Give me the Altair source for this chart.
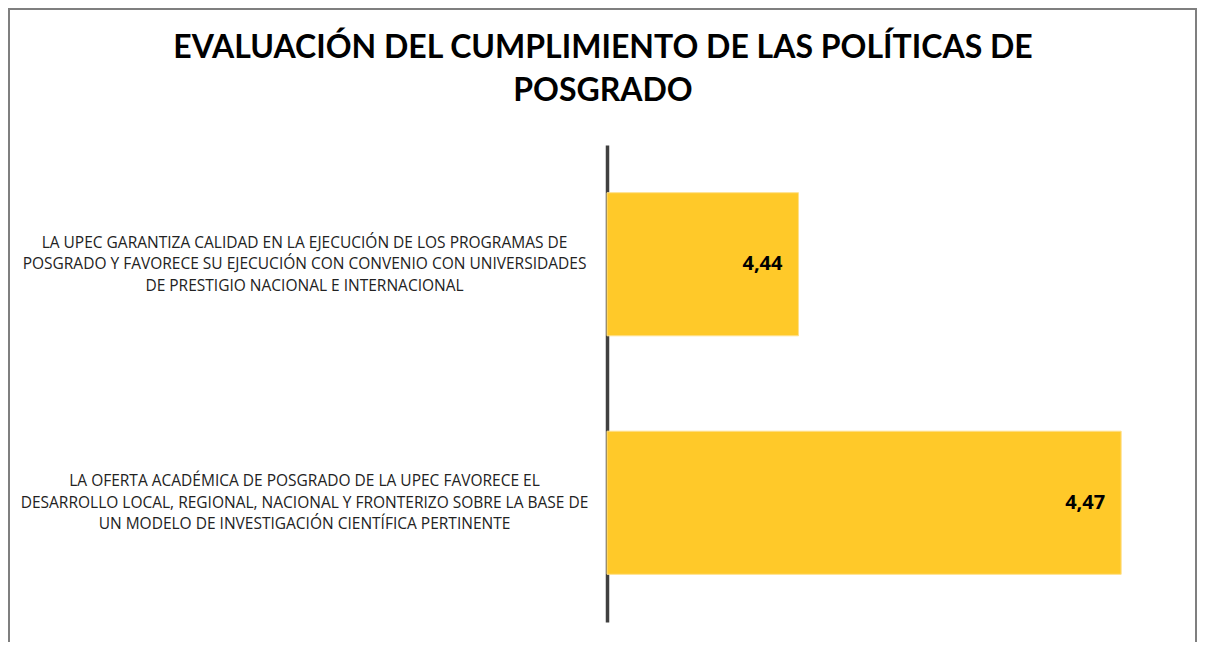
import altair as alt
import pandas as pd

categories = [
    "LA UPEC GARANTIZA CALIDAD EN LA EJECUCIÓN DE LOS PROGRAMAS DE|POSGRADO Y FAVORECE SU EJECUCIÓN CON CONVENIO CON UNIVERSIDADES|DE PRESTIGIO NACIONAL E INTERNACIONAL",
    "LA OFERTA ACADÉMICA DE POSGRADO DE LA UPEC  FAVORECE EL|DESARROLLO LOCAL, REGIONAL, NACIONAL Y FRONTERIZO SOBRE LA BASE DE|UN MODELO DE INVESTIGACIÓN CIENTÍFICA PERTINENTE",
]
values = [4.44, 4.47]
value_labels = ["4,44", "4,47"]

df = pd.DataFrame({"cat": categories, "val": values, "lab": value_labels})

PLOT_W = 583
PLOT_H = 477
PAD_L = 599
PAD_T = 137

x_scale = alt.Scale(domain=[4.4222, 4.4764], zero=False, nice=False, clamp=True)
y_enc = alt.Y(
    "cat:N",
    sort=categories,
    scale=alt.Scale(paddingInner=0.4, paddingOuter=0.2),
    axis=alt.Axis(
        title=None,
        ticks=False,
        domainColor="#404040",
        domainWidth=3.5,
        labelExpr="split(datum.label, '|')",
        labelAlign="center",
        labelBaseline="middle",
        labelPadding=303,
        labelOffset=-21.5,
        labelFont="Open Sans",
        labelFontSize=15.5,
        labelColor="#222222",
        labelLineHeight=21.5,
        labelLimit=0,
    ),
)

bars = alt.Chart(df).mark_bar(color="#FFC929", stroke="#FFE08A", strokeWidth=1).encode(
    x=alt.X("val:Q", scale=x_scale, axis=None),
    x2=alt.value(0),
    y=y_enc,
)

text = alt.Chart(df).mark_text(
    align="right", baseline="middle", dx=-16, font="Open Sans", fontSize=20,
    fontWeight="bold", color="#000000",
).encode(
    x=alt.X("val:Q", scale=x_scale, axis=None),
    y=alt.Y("cat:N", sort=categories),
    text="lab:N",
)

border = alt.Chart(df).mark_rect(fill=None, stroke="#7f7f7f", strokeWidth=2).encode(
    x=alt.value(-PAD_L + 1),
    x2=alt.value(1189 - PAD_L - 1),
    y=alt.value(-PAD_T + 1),
    y2=alt.value(650 - PAD_T),
)

chart = alt.layer(border, bars, text).properties(
    width=PLOT_W,
    height=PLOT_H,
    autosize=alt.AutoSizeParams(type="none"),
    padding={"left": PAD_L, "top": PAD_T, "right": 1189 - PAD_L - PLOT_W, "bottom": 634 - PAD_T - PLOT_H},
    title=alt.Title(
        text=["EVALUACIÓN DEL CUMPLIMIENTO DE LAS POLÍTICAS DE", "POSGRADO"],
        font="Lato",
        fontSize=32,
        fontWeight="bold",
        color="#000000",
        lineHeight=43,
        anchor="middle",
        dx=-(PAD_L + PLOT_W / 2 - 595),
        offset=-100,
    ),
).configure(background="white").configure_view(stroke=None)

chart.save("out.html", embed_options={"renderer": "svg", "actions": False})
